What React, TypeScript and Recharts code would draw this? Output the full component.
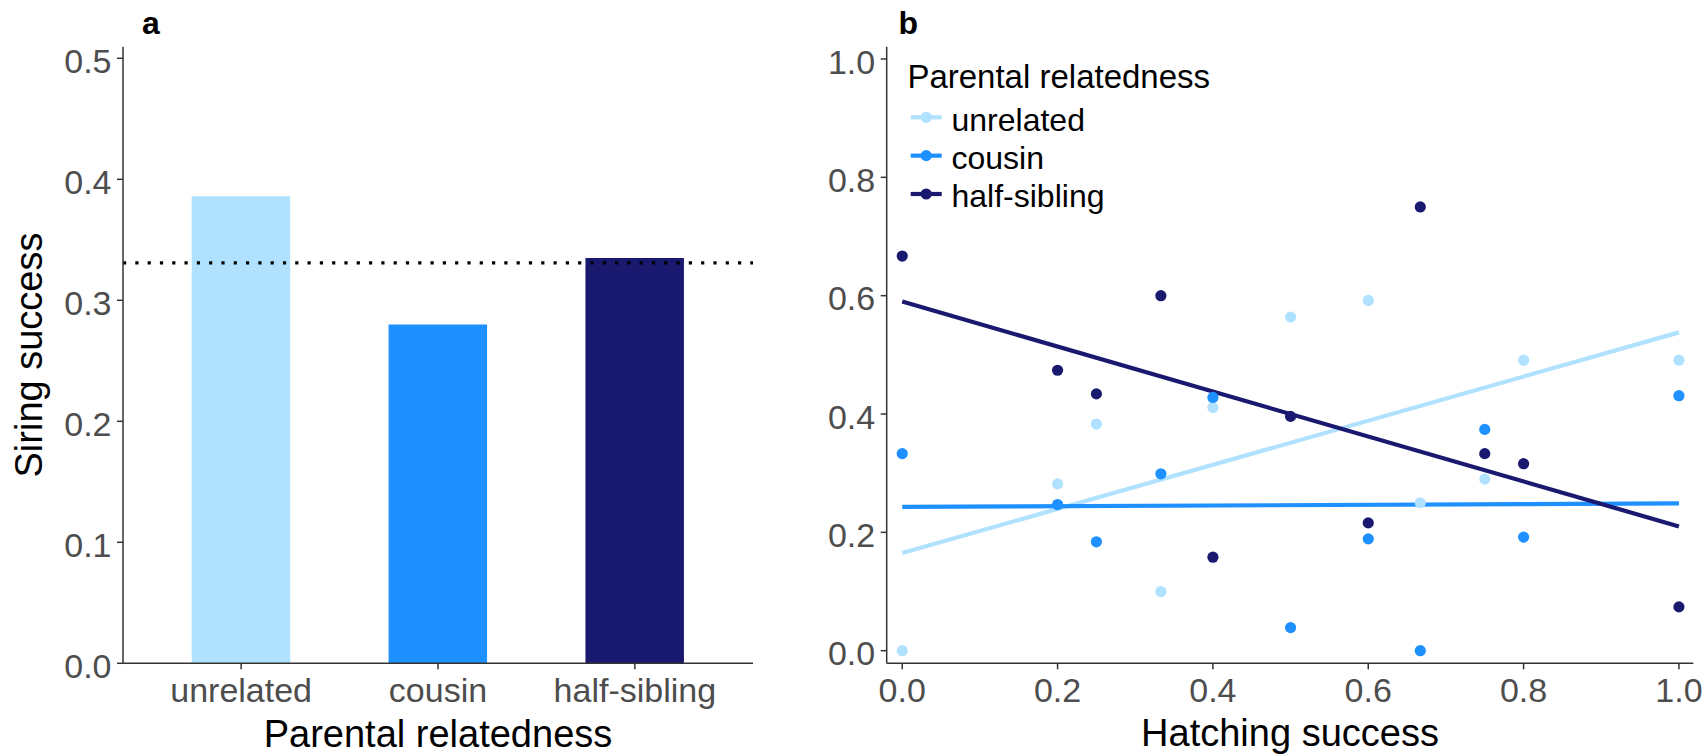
import React from 'react';
import {
  BarChart,
  Bar,
  Cell,
  XAxis,
  YAxis,
  ReferenceLine,
  ComposedChart,
  Scatter,
  Legend,
  Label,
} from 'recharts';

// ---------- Data ----------
const categories = ['unrelated', 'cousin', 'half-sibling'];
const siringSuccess = [0.386, 0.28, 0.335];
const expectedSiring = 0.331;
const groupColors = ['#B0E2FF', '#1E90FF', '#191970'];

const yTicksA = [0, 0.1, 0.2, 0.3, 0.4, 0.5];
const ticksB = [0, 0.2, 0.4, 0.6, 0.8, 1.0];

const hatching = [0, 0.2, 0.25, 0.333, 0.4, 0.5, 0.6, 0.667, 0.75, 0.8, 1.0];
const siringUnrelated = [0, 0.282, 0.383, 0.1, 0.411, 0.564, 0.592, 0.25, 0.29, 0.491, 0.491];
const siringCousin = [0.333, 0.247, 0.184, 0.299, 0.428, 0.039, 0.189, 0, 0.374, 0.192, 0.431];
const siringHalfSibling = [0.667, 0.474, 0.434, 0.6, 0.158, 0.396, 0.216, 0.75, 0.333, 0.316, 0.074];

const fitHatching = [0, 1];
const fitUnrelated = [0.165, 0.538];
const fitCousin = [0.243, 0.249];
const fitHalfSibling = [0.59, 0.21];

// ---------- Derived tables ----------
const barData = categories.map((c, i) => ({ category: c, value: siringSuccess[i] }));
const toPoints = (xs: number[], ys: number[]) => xs.map((x, i) => ({ x, y: ys[i] }));
const pointSets = [
  toPoints(hatching, siringUnrelated),
  toPoints(hatching, siringCousin),
  toPoints(hatching, siringHalfSibling),
];
const fitSets = [
  toPoints(fitHatching, fitUnrelated),
  toPoints(fitHatching, fitCousin),
  toPoints(fitHatching, fitHalfSibling),
];

// ---------- Styles ----------
const FONT = '"Liberation Sans", Arial, Helvetica, sans-serif';
const TICK_COLOR = '#4D4D4D';
const AXIS_COLOR = '#333333';
const TICK_FONT = 34;
const TITLE_FONT = 38;
const FIT_WIDTH = 4.2;
const DOT_R = 5.6;

const axisLineStyle = { stroke: AXIS_COLOR, strokeWidth: 1.5 };

const CategoryTick = (props: any) => {
  const { x, y, payload } = props;
  return (
    <text x={x} y={y + 30.4} textAnchor="middle" fontFamily={FONT} fontSize={TICK_FONT} fill={TICK_COLOR}>
      {payload.value}
    </text>
  );
};

const NumberXTick = (props: any) => {
  const { x, y, payload } = props;
  return (
    <text x={x} y={y + 30.4} textAnchor="middle" fontFamily={FONT} fontSize={TICK_FONT} fill={TICK_COLOR}>
      {Number(payload.value).toFixed(1)}
    </text>
  );
};

const NumberYTick = (props: any) => {
  const { x, y, payload } = props;
  return (
    <text x={x} y={y + 14.8} textAnchor="end" fontFamily={FONT} fontSize={TICK_FONT} fill={TICK_COLOR}>
      {Number(payload.value).toFixed(1)}
    </text>
  );
};

const Dot = (color: string) => (props: any) => {
  const { cx, cy } = props;
  if (cx == null || cy == null) return <g />;
  return <circle cx={cx} cy={cy} r={DOT_R} fill={color} />;
};

const NoShape = () => <g />;

const FitLine = (color: string) => (props: any) => {
  const pts = (props.points || []).filter((p: any) => p && p.x != null && p.y != null);
  if (pts.length < 2) return <g />;
  const d = pts.map((p: any, i: number) => `${i === 0 ? 'M' : 'L'}${p.x},${p.y}`).join(' ');
  return <path d={d} fill="none" stroke={color} strokeWidth={FIT_WIDTH} strokeLinecap="butt" />;
};

const renderLegend = () => (
  <svg width={380} height={170} style={{ display: 'block', overflow: 'visible' }}>
    <text x={7.4} y={33.3} fontFamily={FONT} fontSize={33} fill="#000">
      Parental relatedness
    </text>
    {categories.map((c, i) => {
      const ky = 62.3 + i * 38.35;
      return (
        <g key={c}>
          <line x1={10.7} x2={41.7} y1={ky} y2={ky} stroke={groupColors[i]} strokeWidth={FIT_WIDTH} />
          <circle cx={26.2} cy={ky} r={DOT_R} fill={groupColors[i]} />
          <text x={51.5} y={75.7 + i * 38} fontFamily={FONT} fontSize={32} fill="#000">
            {c}
          </text>
        </g>
      );
    })}
  </svg>
);

export default function App() {
  return (
    <div
      style={{
        position: 'absolute',
        left: 0,
        top: 0,
        width: 1708,
        height: 755,
        background: '#ffffff',
        overflow: 'hidden',
      }}
    >
      {/* Panel a */}
      <div style={{ position: 'absolute', left: 0, top: 0 }}>
        <BarChart
          width={760}
          height={755}
          data={barData}
          margin={{ top: 46.7, right: 7, bottom: 0, left: 0 }}
        >
          <XAxis
            dataKey="category"
            type="category"
            height={91.7}
            padding={{ left: 19.7, right: 19.7 }}
            axisLine={axisLineStyle}
            tickLine={axisLineStyle}
            tickSize={6}
            tickMargin={2}
            tick={<CategoryTick />}
            interval={0}
          >
            <Label
              content={() => (
                <text x={438} y={746.5} textAnchor="middle" fontFamily={FONT} fontSize={TITLE_FONT} fill="#000">
                  Parental relatedness
                </text>
              )}
            />
          </XAxis>
          <YAxis
            type="number"
            width={123}
            domain={[0, 0.5096]}
            ticks={yTicksA}
            allowDataOverflow
            axisLine={axisLineStyle}
            tickLine={axisLineStyle}
            tickSize={6}
            tickMargin={5.5}
            tick={<NumberYTick />}
          >
            <Label
              content={() => (
                <g>
                  <text
                    x={42}
                    y={355}
                    transform="rotate(-90 42 355)"
                    textAnchor="middle"
                    fontFamily={FONT}
                    fontSize={TITLE_FONT}
                    fill="#000"
                  >
                    Siring success
                  </text>
                  <text x={142} y={34} fontFamily={FONT} fontSize={32} fontWeight="bold" fill="#000">
                    a
                  </text>
                </g>
              )}
            />
          </YAxis>
          <Bar dataKey="value" barSize={98.5} isAnimationActive={false}>
            {barData.map((d, i) => (
              <Cell key={d.category} fill={groupColors[i]} />
            ))}
          </Bar>
          <ReferenceLine
            y={expectedSiring}
            stroke="#000"
            strokeWidth={3.2}
            strokeDasharray="3.2 9.1"
          />
        </BarChart>
      </div>

      {/* Panel b */}
      <div style={{ position: 'absolute', left: 760, top: 0 }}>
        <ComposedChart
          width={948}
          height={755}
          margin={{ top: 46.7, right: 14.7, bottom: 0, left: 0 }}
        >
          <XAxis
            dataKey="x"
            type="number"
            height={91.7}
            domain={[-0.02, 1.0185]}
            ticks={ticksB}
            allowDataOverflow
            axisLine={axisLineStyle}
            tickLine={axisLineStyle}
            tickSize={6}
            tickMargin={2}
            tick={<NumberXTick />}
            interval={0}
          >
            <Label
              content={() => (
                <text x={530} y={745.5} textAnchor="middle" fontFamily={FONT} fontSize={TITLE_FONT} fill="#000">
                  Hatching success
                </text>
              )}
            />
          </XAxis>
          <YAxis
            dataKey="y"
            type="number"
            width={126.7}
            domain={[-0.0213, 1.0208]}
            ticks={ticksB}
            allowDataOverflow
            axisLine={axisLineStyle}
            tickLine={axisLineStyle}
            tickSize={6}
            tickMargin={5.5}
            tick={<NumberYTick />}
            interval={0}
          >
            <Label
              content={() => (
                <text x={138.5} y={33.5} fontFamily={FONT} fontSize={32} fontWeight="bold" fill="#000">
                  b
                </text>
              )}
            />
          </YAxis>
          {fitSets.map((pts, i) => (
            <Scatter
              key={'fit-' + categories[i]}
              name={'fit-' + categories[i]}
              data={pts}
              fill={groupColors[i]}
              stroke={groupColors[i]}
              line={FitLine(groupColors[i])}
              lineType="joint"
              shape={NoShape}
              legendType="none"
              isAnimationActive={false}
            />
          ))}
          {pointSets.map((pts, i) => (
            <Scatter
              key={'pts-' + categories[i]}
              name={categories[i]}
              data={pts}
              fill={groupColors[i]}
              shape={Dot(groupColors[i])}
              isAnimationActive={false}
            />
          ))}
          <Legend
            layout="vertical"
            align="center"
            verticalAlign="middle"
            content={renderLegend}
            wrapperStyle={{ left: 140, top: 55, width: 380, height: 170 }}
          />
        </ComposedChart>
      </div>
    </div>
  );
}
